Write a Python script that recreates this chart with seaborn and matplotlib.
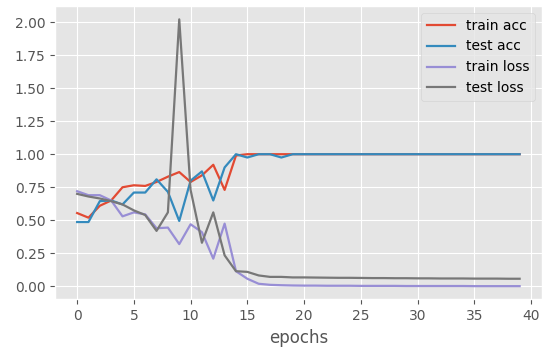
import numpy as np
import pandas as pd
import matplotlib
matplotlib.use("Agg")
import matplotlib.pyplot as plt
import seaborn as sns

plt.style.use("ggplot")

epochs = list(range(40))

train_acc = [0.555, 0.52, 0.61, 0.65, 0.75, 0.765, 0.76, 0.79, 0.83, 0.865,
             0.79, 0.84, 0.92, 0.73, 0.99, 1.0, 1.0, 1.0, 1.0, 1.0,
             1.0, 1.0, 1.0, 1.0, 1.0, 1.0, 1.0, 1.0, 1.0, 1.0,
             1.0, 1.0, 1.0, 1.0, 1.0, 1.0, 1.0, 1.0, 1.0, 1.0]
test_acc = [0.487, 0.487, 0.645, 0.65, 0.62, 0.71, 0.71, 0.81, 0.715, 0.495,
            0.80, 0.87, 0.65, 0.90, 1.0, 0.975, 1.0, 1.0, 0.975, 1.0,
            1.0, 1.0, 1.0, 1.0, 1.0, 1.0, 1.0, 1.0, 1.0, 1.0,
            1.0, 1.0, 1.0, 1.0, 1.0, 1.0, 1.0, 1.0, 1.0, 1.0]
train_loss = [0.72, 0.69, 0.69, 0.65, 0.53, 0.56, 0.545, 0.44, 0.445, 0.32,
              0.47, 0.41, 0.21, 0.475, 0.115, 0.058, 0.02, 0.012, 0.009, 0.007,
              0.006, 0.006, 0.005, 0.005, 0.005, 0.004, 0.004, 0.004, 0.004, 0.003,
              0.003, 0.003, 0.003, 0.003, 0.003, 0.002, 0.002, 0.002, 0.002, 0.002]
test_loss = [0.70, 0.68, 0.665, 0.645, 0.62, 0.575, 0.54, 0.42, 0.56, 2.02,
             0.73, 0.33, 0.56, 0.235, 0.115, 0.11, 0.083, 0.072, 0.072, 0.068,
             0.068, 0.067, 0.066, 0.065, 0.065, 0.064, 0.063, 0.063, 0.062, 0.062,
             0.061, 0.061, 0.060, 0.060, 0.060, 0.059, 0.059, 0.059, 0.058, 0.058]

series = {"train acc": train_acc, "test acc": test_acc,
          "train loss": train_loss, "test loss": test_loss}
df = pd.DataFrame([(e, name, v) for name, vals in series.items()
                   for e, v in zip(epochs, vals)],
                  columns=["epochs", "metric", "value"])

palette = ["#E24A33", "#348ABD", "#988ED5", "#777777"]

fig, ax = plt.subplots(figsize=(5.5, 3.54), dpi=100)
sns.lineplot(data=df, x="epochs", y="value", hue="metric",
             palette=palette, linewidth=1.6, ax=ax)

ax.set_xticks([0, 5, 10, 15, 20, 25, 30, 35, 40])
ax.set_yticks(np.arange(0, 2.01, 0.25))
ax.set_ylabel("")
ax.set_xlabel("epochs")
leg = ax.legend(title=None, loc="upper right", fontsize=10,
                facecolor="#E5E5E5", edgecolor="#D0D0D0")
leg.get_frame().set_alpha(0.8)

fig.subplots_adjust(left=0.1, right=0.985, bottom=0.154, top=0.983)
fig.savefig("out.png", dpi=100)
